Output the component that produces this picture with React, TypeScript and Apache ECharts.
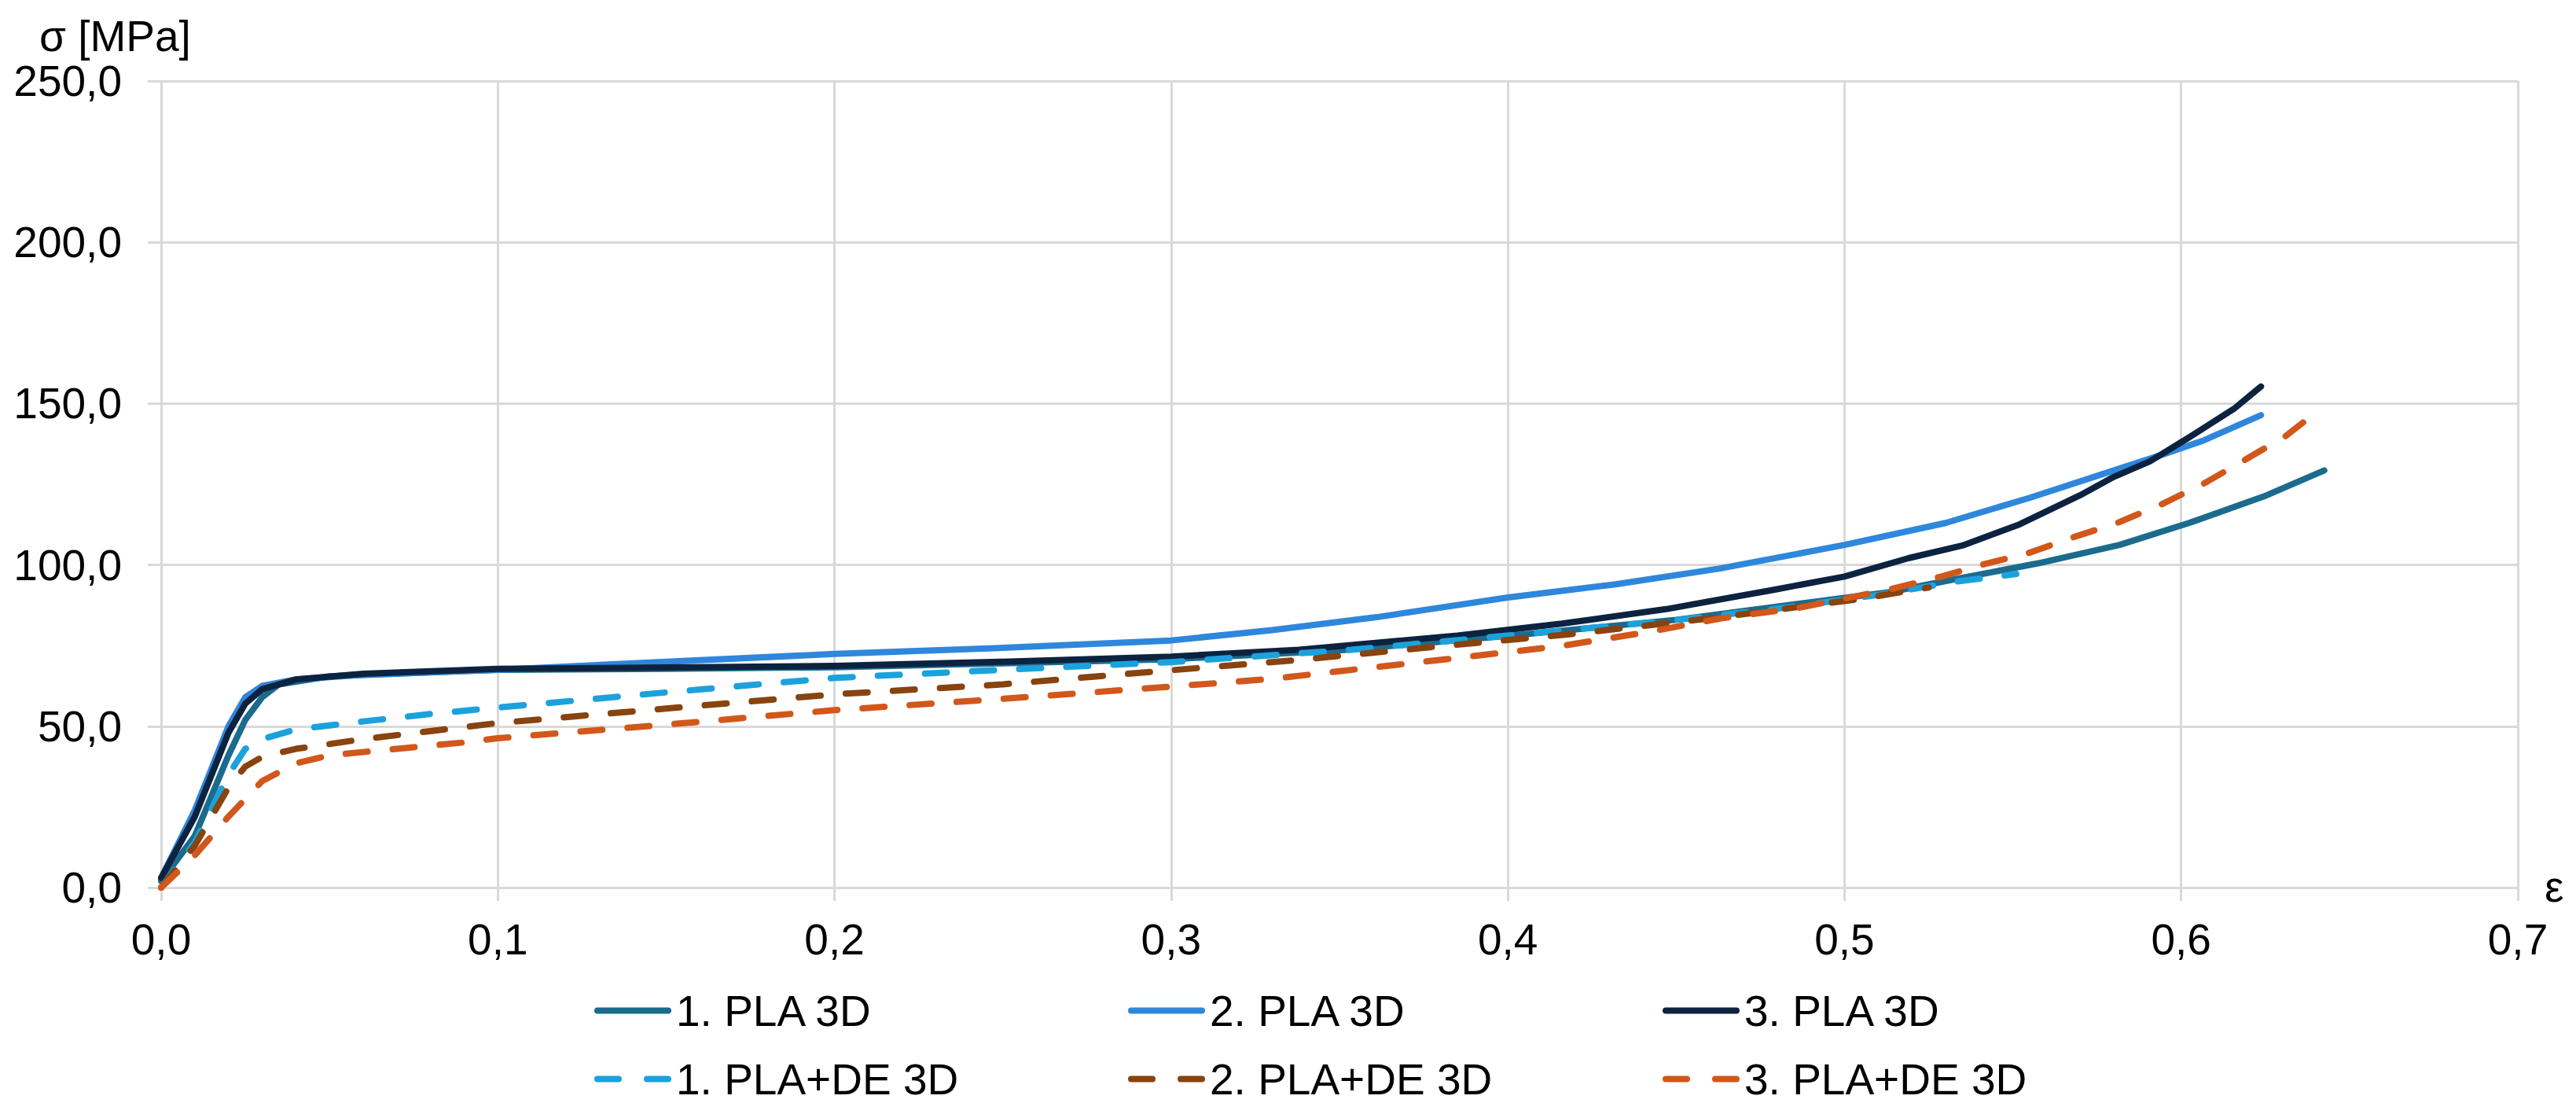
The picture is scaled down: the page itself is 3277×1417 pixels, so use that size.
import React, { useEffect, useRef } from 'react';
import * as echarts from 'echarts';

const SERIES_NAMES = ['1. PLA 3D', '2. PLA 3D', '3. PLA 3D', '1. PLA+DE 3D', '2. PLA+DE 3D', '3. PLA+DE 3D'];
const SERIES_COLORS = ['#1B6B8D', '#2F87DC', '#0C2340', '#1BA2DC', '#88430F', '#D2571B'];
const SERIES_DASHED = [false, false, false, true, true, true];

const PLA_1 = [
  [0, 2], [0.01, 16], [0.02, 41], [0.025, 52], [0.03, 59], [0.035, 63], [0.05, 65.5], [0.1, 67.5],
  [0.15, 67.8], [0.2, 68.3], [0.25, 69.5], [0.3, 70.8], [0.35, 73.5], [0.4, 78], [0.45, 83],
  [0.5, 89.8], [0.513, 91.5], [0.531, 95.2], [0.5575, 100.5], [0.5817, 106.2], [0.6023, 113],
  [0.6245, 121.2], [0.6425, 129.3],
];
const PLA_2 = [
  [0, 3], [0.01, 24], [0.02, 50], [0.025, 59], [0.03, 62.5], [0.04, 64.5], [0.06, 66], [0.1, 67.5],
  [0.15, 70], [0.2, 72.4], [0.25, 74.3], [0.3, 76.6], [0.33, 79.8], [0.361, 83.8], [0.4, 89.9],
  [0.432, 94], [0.463, 98.9], [0.5, 106.2], [0.53, 113], [0.555, 120.8], [0.58, 129.3],
  [0.5933, 133.8], [0.6067, 138.6], [0.6237, 146.4],
];
const PLA_3 = [
  [0, 3], [0.01, 22], [0.02, 48], [0.025, 57], [0.03, 61.5], [0.04, 64.5], [0.06, 66.3], [0.1, 67.8],
  [0.15, 68.2], [0.2, 68.7], [0.25, 70], [0.3, 71.6], [0.338, 73.7], [0.385, 78.1], [0.416, 81.8],
  [0.447, 86.3], [0.479, 92.3], [0.5, 96.4], [0.519, 102.1], [0.535, 106], [0.552, 112.6],
  [0.57, 121.6], [0.58, 127.3], [0.5907, 132.1], [0.6023, 139.5], [0.6157, 148.4], [0.6237, 155.3],
];
const PLA_DE_1 = [
  [0, 0], [0.01, 14], [0.02, 35], [0.025, 43], [0.03, 46], [0.04, 49], [0.06, 51.5], [0.08, 53.8],
  [0.1, 55.8], [0.15, 60.5], [0.2, 65], [0.25, 67.5], [0.3, 69.9], [0.3535, 73.7], [0.405, 78.6],
  [0.447, 82.6], [0.479, 86.3], [0.51, 90.7], [0.533, 94.8], [0.551, 97.2],
];
const PLA_DE_2 = [
  [0, 0], [0.01, 13], [0.02, 31], [0.025, 37.5], [0.03, 40.5], [0.04, 43], [0.06, 46], [0.08, 48.5],
  [0.1, 51], [0.15, 55.5], [0.2, 59.9], [0.25, 63], [0.2956, 67], [0.336, 70.4], [0.377, 74.5],
  [0.419, 78.6], [0.463, 83.8], [0.505, 89.5], [0.525, 93],
];
const PLA_DE_3 = [
  [0, 0], [0.01, 10], [0.02, 22], [0.03, 33], [0.04, 38.5], [0.05, 41], [0.06, 42], [0.075, 43.5],
  [0.09, 45], [0.1, 46.3], [0.15, 50.5], [0.2, 55], [0.25, 58.5], [0.3, 62.3], [0.33, 64.7],
  [0.358, 68], [0.386, 71.3], [0.416, 74.9], [0.4427, 79.4], [0.463, 83.4], [0.4864, 86.7],
  [0.513, 92.3], [0.5288, 96.4], [0.5406, 100], [0.555, 103.8], [0.568, 108.6], [0.581, 113],
  [0.594, 118.7], [0.6067, 125.2], [0.619, 132.6], [0.631, 139.9], [0.6385, 146],
];
const SERIES_DATA = [PLA_1, PLA_2, PLA_3, PLA_DE_1, PLA_DE_2, PLA_DE_3];

const X_MIN = 0;
const X_MAX = 0.7;
const X_STEP = 0.1;
const Y_MIN = 0;
const Y_MAX = 250;
const Y_STEP = 50;
const Y_TITLE = 'σ [MPa]';
const X_TITLE = 'ε';

const FONT = '"Liberation Sans", Arial, sans-serif';
const GRID_COLOR = '#d9d9d9';
const LEGEND_POS = [
  [756, 1258], [1435, 1258], [2115, 1258],
  [756, 1345], [1435, 1345], [2115, 1345],
];

const fmt = (v: number) => v.toFixed(1).replace('.', ',');

export default function App() {
  const ref = useRef<HTMLDivElement>(null);
  useEffect(() => {
    document.body.style.margin = '0';
    const chart = echarts.init(ref.current!, null, { renderer: 'svg' });
    const axisCommon = {
      axisLine: { show: true, lineStyle: { color: GRID_COLOR, width: 3 } },
      axisTick: { show: true, length: 17, lineStyle: { color: GRID_COLOR, width: 3 } },
      splitLine: { show: true, lineStyle: { color: GRID_COLOR, width: 3 } },
    };
    const option: any = {
      animation: false,
      backgroundColor: '#ffffff',
      grid: { left: 205, right: 74, top: 103, bottom: 288, containLabel: false },
      xAxis: {
        type: 'value',
        min: X_MIN,
        max: X_MAX,
        interval: X_STEP,
        ...axisCommon,
        axisLabel: { formatter: fmt, fontSize: 55, fontFamily: FONT, color: '#000', margin: 38 },
      },
      yAxis: {
        type: 'value',
        min: Y_MIN,
        max: Y_MAX,
        interval: Y_STEP,
        ...axisCommon,
        axisLabel: { formatter: fmt, fontSize: 55, fontFamily: FONT, color: '#000', margin: 50 },
      },
      legend: SERIES_NAMES.map((name, i) => ({
        data: [name],
        left: LEGEND_POS[i][0],
        top: LEGEND_POS[i][1],
        padding: 0,
        itemGap: 0,
        itemWidth: 90,
        itemHeight: 56,
        selectedMode: false,
        itemStyle: { opacity: 0, borderWidth: 0 },
        textStyle: { fontSize: 55, fontFamily: FONT, color: '#000', padding: [0, 0, 0, 5] },
        lineStyle: {
          width: 8,
          type: SERIES_DASHED[i] ? [27, 36] : 'solid',
          cap: 'round',
        },
      })),
      graphic: [
        {
          type: 'text',
          left: 50,
          top: 18,
          style: { text: Y_TITLE, fontSize: 55, fontFamily: FONT, fill: '#000' },
        },
        {
          type: 'text',
          left: 3237,
          top: 1100,
          style: { text: X_TITLE, fontSize: 55, fontFamily: FONT, fill: '#000' },
        },
      ],
      series: SERIES_NAMES.map((name, i) => ({
        name,
        type: 'line',
        data: SERIES_DATA[i],
        showSymbol: false,
        symbol: 'none',
        smooth: false,
        color: SERIES_COLORS[i],
        lineStyle: {
          color: SERIES_COLORS[i],
          width: 8,
          type: SERIES_DASHED[i] ? [28, 32] : 'solid',
          cap: 'round',
          join: 'round',
        },
      })),
    };
    chart.setOption(option);
    return () => chart.dispose();
  }, []);
  return (
    <div
      ref={ref}
      style={{ position: 'absolute', left: 0, top: 0, width: 3277, height: 1417, background: '#fff' }}
    />
  );
}
